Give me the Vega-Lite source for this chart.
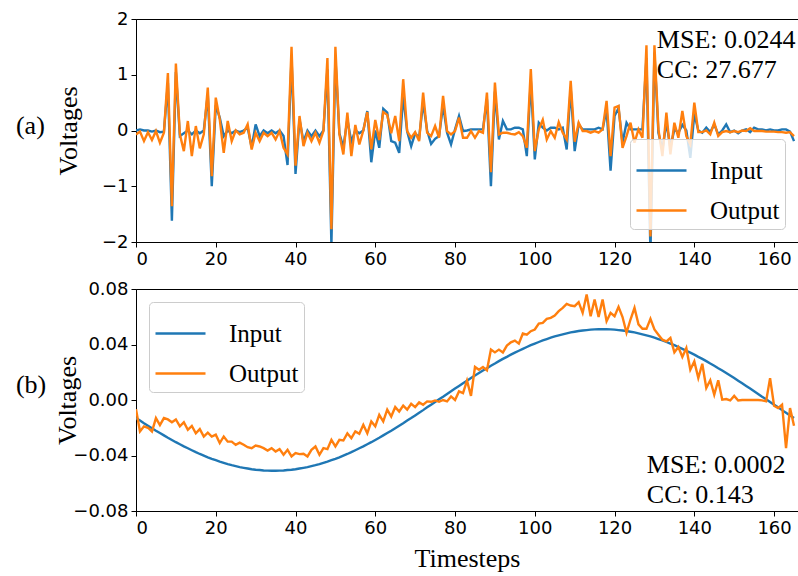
{
"$schema":"https://vega.github.io/schema/vega-lite/v6.json",
"background":"white",
"padding":{"left":15,"top":9,"right":0,"bottom":0},
"datasets":{
"a":[
{"t":0,"Input":0.0,"Output":-0.07},{"t":1,"Input":0.02,"Output":-0.02},{"t":2,"Input":0.0,"Output":-0.19},{"t":3,"Input":0.0,"Output":-0.03},{"t":4,"Input":-0.02,"Output":-0.17},{"t":5,"Input":0.0,"Output":-0.01},{"t":6,"Input":-0.03,"Output":-0.22},{"t":7,"Input":-0.02,"Output":-0.04},{"t":8,"Input":0.85,"Output":1.03},{"t":9,"Input":-1.62,"Output":-1.36},
{"t":10,"Input":1.05,"Output":1.2},{"t":11,"Input":-0.1,"Output":-0.07},{"t":12,"Input":-0.05,"Output":-0.37},{"t":13,"Input":0.0,"Output":0.17},{"t":14,"Input":-0.07,"Output":-0.46},{"t":15,"Input":0.0,"Output":0.08},{"t":16,"Input":-0.05,"Output":-0.32},{"t":17,"Input":0.0,"Output":-0.07},{"t":18,"Input":0.65,"Output":0.77},{"t":19,"Input":-1.0,"Output":-0.82},
{"t":20,"Input":0.45,"Output":0.59},{"t":21,"Input":0.23,"Output":0.2},{"t":22,"Input":-0.1,"Output":-0.4},{"t":23,"Input":0.0,"Output":0.17},{"t":24,"Input":-0.05,"Output":-0.19},{"t":25,"Input":0.0,"Output":0.0},{"t":26,"Input":-0.03,"Output":-0.07},{"t":27,"Input":0.0,"Output":-0.04},{"t":28,"Input":0.05,"Output":0.11},{"t":29,"Input":-0.3,"Output":-0.34},
{"t":30,"Input":0.11,"Output":-0.04},{"t":31,"Input":-0.1,"Output":-0.19},{"t":32,"Input":0.0,"Output":-0.04},{"t":33,"Input":-0.05,"Output":-0.1},{"t":34,"Input":0.0,"Output":-0.04},{"t":35,"Input":-0.05,"Output":-0.16},{"t":36,"Input":0.0,"Output":-0.01},{"t":37,"Input":-0.1,"Output":-0.31},{"t":38,"Input":-0.62,"Output":-0.43},{"t":39,"Input":1.3,"Output":1.5},
{"t":40,"Input":-0.78,"Output":-0.63},{"t":41,"Input":0.2,"Output":0.26},{"t":42,"Input":-0.2,"Output":-0.28},{"t":43,"Input":0.0,"Output":-0.04},{"t":44,"Input":-0.1,"Output":-0.19},{"t":45,"Input":0.0,"Output":-0.04},{"t":46,"Input":-0.1,"Output":-0.22},{"t":47,"Input":0.0,"Output":-0.01},{"t":48,"Input":1.1,"Output":1.3},{"t":49,"Input":-2.05,"Output":-1.77},
{"t":50,"Input":1.3,"Output":1.5},{"t":51,"Input":-0.05,"Output":-0.07},{"t":52,"Input":-0.3,"Output":-0.43},{"t":53,"Input":0.2,"Output":0.32},{"t":54,"Input":-0.2,"Output":-0.46},{"t":55,"Input":0.0,"Output":0.1},{"t":56,"Input":-0.05,"Output":-0.25},{"t":57,"Input":0.0,"Output":0.0},{"t":58,"Input":0.35,"Output":0.33},{"t":59,"Input":-0.57,"Output":-0.34},
{"t":60,"Input":0.0,"Output":0.19},{"t":61,"Input":-0.31,"Output":-0.17},{"t":62,"Input":0.39,"Output":0.33},{"t":63,"Input":0.32,"Output":0.28},{"t":64,"Input":-0.19,"Output":-0.05},{"t":65,"Input":-0.22,"Output":0.26},{"t":66,"Input":-0.4,"Output":-0.19},{"t":67,"Input":0.62,"Output":0.92},{"t":68,"Input":-0.02,"Output":-0.01},{"t":69,"Input":-0.28,"Output":-0.13},
{"t":70,"Input":-0.05,"Output":-0.03},{"t":71,"Input":-0.13,"Output":-0.19},{"t":72,"Input":0.5,"Output":0.68},{"t":73,"Input":0.0,"Output":-0.04},{"t":74,"Input":-0.24,"Output":-0.1},{"t":75,"Input":-0.15,"Output":0.08},{"t":76,"Input":-0.1,"Output":-0.13},{"t":77,"Input":0.45,"Output":0.62},{"t":78,"Input":-0.04,"Output":-0.01},{"t":79,"Input":-0.25,"Output":-0.07},
{"t":80,"Input":0.02,"Output":-0.01},{"t":81,"Input":0.26,"Output":0.23},{"t":82,"Input":-0.01,"Output":-0.13},{"t":83,"Input":0.0,"Output":-0.13},{"t":84,"Input":0.02,"Output":-0.01},{"t":85,"Input":0.02,"Output":-0.13},{"t":86,"Input":0.02,"Output":-0.01},{"t":87,"Input":0.02,"Output":-0.04},{"t":88,"Input":0.56,"Output":0.68},{"t":89,"Input":-1.0,"Output":-0.75},
{"t":90,"Input":0.7,"Output":0.86},{"t":91,"Input":-0.16,"Output":-0.07},{"t":92,"Input":0.17,"Output":-0.04},{"t":93,"Input":0.02,"Output":-0.04},{"t":94,"Input":0.02,"Output":-0.06},{"t":95,"Input":0.05,"Output":-0.07},{"t":96,"Input":0.05,"Output":-0.03},{"t":97,"Input":0.02,"Output":-0.1},{"t":98,"Input":-0.46,"Output":-0.31},{"t":99,"Input":0.9,"Output":1.1},
{"t":100,"Input":-0.52,"Output":-0.37},{"t":101,"Input":0.14,"Output":0.02},{"t":102,"Input":0.05,"Output":0.19},{"t":103,"Input":0.0,"Output":-0.16},{"t":104,"Input":0.05,"Output":-0.01},{"t":105,"Input":0.05,"Output":-0.13},{"t":106,"Input":0.02,"Output":0.15},{"t":107,"Input":0.05,"Output":-0.04},{"t":108,"Input":-0.34,"Output":-0.16},{"t":109,"Input":0.75,"Output":0.89},
{"t":110,"Input":-0.37,"Output":-0.2},{"t":111,"Input":0.11,"Output":0.14},{"t":112,"Input":0.02,"Output":-0.01},{"t":113,"Input":0.02,"Output":-0.01},{"t":114,"Input":0.02,"Output":-0.04},{"t":115,"Input":0.02,"Output":-0.01},{"t":116,"Input":0.05,"Output":-0.04},{"t":117,"Input":0.02,"Output":0.02},{"t":118,"Input":0.38,"Output":0.53},{"t":119,"Input":-0.72,"Output":-0.46},
{"t":120,"Input":0.26,"Output":0.41},{"t":121,"Input":0.4,"Output":0.44},{"t":122,"Input":-0.22,"Output":-0.31},{"t":123,"Input":0.14,"Output":-0.1},{"t":124,"Input":0.02,"Output":0.14},{"t":125,"Input":0.02,"Output":-0.22},{"t":126,"Input":0.02,"Output":0.02},{"t":127,"Input":0.02,"Output":-0.13},{"t":128,"Input":1.3,"Output":1.53},{"t":129,"Input":-2.2,"Output":-1.9},
{"t":130,"Input":1.4,"Output":1.53},{"t":131,"Input":-0.04,"Output":0.02},{"t":132,"Input":-0.34,"Output":-0.46},{"t":133,"Input":0.14,"Output":0.32},{"t":134,"Input":-0.3,"Output":-0.43},{"t":135,"Input":0.02,"Output":0.14},{"t":136,"Input":-0.04,"Output":-0.13},{"t":137,"Input":0.1,"Output":0.35},{"t":138,"Input":0.0,"Output":-0.1},{"t":139,"Input":-0.49,"Output":-0.25},
{"t":140,"Input":0.3,"Output":0.5},{"t":141,"Input":0.0,"Output":-0.03},{"t":142,"Input":-0.04,"Output":-0.03},{"t":143,"Input":0.05,"Output":0.0},{"t":144,"Input":-0.03,"Output":-0.07},{"t":145,"Input":0.11,"Output":0.14},{"t":146,"Input":-0.07,"Output":-0.1},{"t":147,"Input":0.0,"Output":-0.03},{"t":148,"Input":0.11,"Output":-0.01},{"t":149,"Input":-0.03,"Output":-0.03},
{"t":150,"Input":0.0,"Output":-0.01},{"t":151,"Input":-0.05,"Output":-0.03},{"t":152,"Input":0.0,"Output":0.0},{"t":153,"Input":0.02,"Output":-0.01},{"t":154,"Input":-0.03,"Output":0.04},{"t":155,"Input":0.05,"Output":-0.01},{"t":156,"Input":0.02,"Output":-0.01},{"t":157,"Input":0.02,"Output":-0.01},{"t":158,"Input":0.0,"Output":-0.02},{"t":159,"Input":0.02,"Output":-0.02},
{"t":160,"Input":0.0,"Output":-0.02},{"t":161,"Input":0.0,"Output":-0.03},{"t":162,"Input":0.02,"Output":-0.03},{"t":163,"Input":0.02,"Output":-0.04},{"t":164,"Input":-0.02,"Output":-0.03},{"t":165,"Input":-0.19,"Output":-0.1}
],
"b":[
{"t":0,"Input":-0.0130,"Output":-0.0066},{"t":1,"Input":-0.0148,"Output":-0.0227},{"t":2,"Input":-0.0167,"Output":-0.019},{"t":3,"Input":-0.0185,"Output":-0.020},{"t":4,"Input":-0.0203,"Output":-0.0227},{"t":5,"Input":-0.0221,"Output":-0.013},{"t":6,"Input":-0.0238,"Output":-0.018},{"t":7,"Input":-0.0255,"Output":-0.013},{"t":8,"Input":-0.0272,"Output":-0.014},{"t":9,"Input":-0.0288,"Output":-0.016},
{"t":10,"Input":-0.0304,"Output":-0.014},{"t":11,"Input":-0.0319,"Output":-0.019},{"t":12,"Input":-0.0334,"Output":-0.016},{"t":13,"Input":-0.0348,"Output":-0.0215},{"t":14,"Input":-0.0362,"Output":-0.0187},{"t":15,"Input":-0.0376,"Output":-0.024},{"t":16,"Input":-0.0389,"Output":-0.021},{"t":17,"Input":-0.0401,"Output":-0.0263},{"t":18,"Input":-0.0413,"Output":-0.0235},{"t":19,"Input":-0.0424,"Output":-0.0263},
{"t":20,"Input":-0.0434,"Output":-0.025},{"t":21,"Input":-0.0444,"Output":-0.031},{"t":22,"Input":-0.0453,"Output":-0.0263},{"t":23,"Input":-0.0462,"Output":-0.03},{"t":24,"Input":-0.0470,"Output":-0.03},{"t":25,"Input":-0.0477,"Output":-0.0323},{"t":26,"Input":-0.0484,"Output":-0.0307},{"t":27,"Input":-0.0489,"Output":-0.0323},{"t":28,"Input":-0.0494,"Output":-0.034},{"t":29,"Input":-0.0499,"Output":-0.0347},
{"t":30,"Input":-0.0503,"Output":-0.0328},{"t":31,"Input":-0.0505,"Output":-0.0335},{"t":32,"Input":-0.0508,"Output":-0.0347},{"t":33,"Input":-0.0509,"Output":-0.0364},{"t":34,"Input":-0.0510,"Output":-0.0347},{"t":35,"Input":-0.0510,"Output":-0.0371},{"t":36,"Input":-0.0509,"Output":-0.0354},{"t":37,"Input":-0.0508,"Output":-0.0395},{"t":38,"Input":-0.0505,"Output":-0.0359},{"t":39,"Input":-0.0503,"Output":-0.0407},
{"t":40,"Input":-0.0499,"Output":-0.0383},{"t":41,"Input":-0.0494,"Output":-0.039},{"t":42,"Input":-0.0489,"Output":-0.0388},{"t":43,"Input":-0.0484,"Output":-0.0407},{"t":44,"Input":-0.0477,"Output":-0.0359},{"t":45,"Input":-0.0470,"Output":-0.0335},{"t":46,"Input":-0.0462,"Output":-0.0395},{"t":47,"Input":-0.0453,"Output":-0.0347},{"t":48,"Input":-0.0444,"Output":-0.0354},{"t":49,"Input":-0.0434,"Output":-0.0287},
{"t":50,"Input":-0.0424,"Output":-0.0335},{"t":51,"Input":-0.0413,"Output":-0.0287},{"t":52,"Input":-0.0401,"Output":-0.0292},{"t":53,"Input":-0.0389,"Output":-0.024},{"t":54,"Input":-0.0376,"Output":-0.0275},{"t":55,"Input":-0.0362,"Output":-0.0227},{"t":56,"Input":-0.0348,"Output":-0.0244},{"t":57,"Input":-0.0334,"Output":-0.0179},{"t":58,"Input":-0.0319,"Output":-0.024},{"t":59,"Input":-0.0304,"Output":-0.0155},
{"t":60,"Input":-0.0288,"Output":-0.019},{"t":61,"Input":-0.0272,"Output":-0.0107},{"t":62,"Input":-0.0255,"Output":-0.0155},{"t":63,"Input":-0.0238,"Output":-0.007},{"t":64,"Input":-0.0221,"Output":-0.0119},{"t":65,"Input":-0.0203,"Output":-0.0051},{"t":66,"Input":-0.0185,"Output":-0.0083},{"t":67,"Input":-0.0167,"Output":-0.0041},{"t":68,"Input":-0.0148,"Output":-0.007},{"t":69,"Input":-0.0130,"Output":-0.0027},
{"t":70,"Input":-0.0111,"Output":-0.0051},{"t":71,"Input":-0.0092,"Output":-0.0017},{"t":72,"Input":-0.0073,"Output":-0.0034},{"t":73,"Input":-0.0053,"Output":-0.001},{"t":74,"Input":-0.0034,"Output":-0.0013},{"t":75,"Input":-0.0015,"Output":-0.0003},{"t":76,"Input":0.0005,"Output":-0.0013},{"t":77,"Input":0.0024,"Output":0.0},{"t":78,"Input":0.0044,"Output":-0.001},{"t":79,"Input":0.0063,"Output":0.0026},
{"t":80,"Input":0.0082,"Output":0.0},{"t":81,"Input":0.0101,"Output":0.0062},{"t":82,"Input":0.0120,"Output":0.005},{"t":83,"Input":0.0139,"Output":0.014},{"t":84,"Input":0.0158,"Output":0.003},{"t":85,"Input":0.0176,"Output":0.0238},{"t":86,"Input":0.0194,"Output":0.0218},{"t":87,"Input":0.0212,"Output":0.0238},{"t":88,"Input":0.0229,"Output":0.0214},{"t":89,"Input":0.0247,"Output":0.0363},
{"t":90,"Input":0.0263,"Output":0.0343},{"t":91,"Input":0.0280,"Output":0.0363},{"t":92,"Input":0.0296,"Output":0.0343},{"t":93,"Input":0.0311,"Output":0.0392},{"t":94,"Input":0.0327,"Output":0.0416},{"t":95,"Input":0.0341,"Output":0.0428},{"t":96,"Input":0.0355,"Output":0.0406},{"t":97,"Input":0.0369,"Output":0.0479},{"t":98,"Input":0.0382,"Output":0.0471},{"t":99,"Input":0.0395,"Output":0.0496},
{"t":100,"Input":0.0407,"Output":0.0508},{"t":101,"Input":0.0418,"Output":0.0551},{"t":102,"Input":0.0429,"Output":0.0556},{"t":103,"Input":0.0439,"Output":0.0585},{"t":104,"Input":0.0449,"Output":0.0592},{"t":105,"Input":0.0458,"Output":0.0609},{"t":106,"Input":0.0466,"Output":0.064},{"t":107,"Input":0.0473,"Output":0.0664},{"t":108,"Input":0.0480,"Output":0.0693},{"t":109,"Input":0.0487,"Output":0.0681},
{"t":110,"Input":0.0492,"Output":0.0676},{"t":111,"Input":0.0497,"Output":0.0705},{"t":112,"Input":0.0501,"Output":0.0628},{"t":113,"Input":0.0504,"Output":0.076},{"t":114,"Input":0.0507,"Output":0.0604},{"t":115,"Input":0.0509,"Output":0.0724},{"t":116,"Input":0.0510,"Output":0.0599},{"t":117,"Input":0.0510,"Output":0.0724},{"t":118,"Input":0.0510,"Output":0.0568},{"t":119,"Input":0.0509,"Output":0.0628},
{"t":120,"Input":0.0507,"Output":0.0604},{"t":121,"Input":0.0504,"Output":0.0671},{"t":122,"Input":0.0501,"Output":0.0598},{"t":123,"Input":0.0497,"Output":0.0484},{"t":124,"Input":0.0492,"Output":0.058},{"t":125,"Input":0.0487,"Output":0.0664},{"t":126,"Input":0.0480,"Output":0.0545},{"t":127,"Input":0.0473,"Output":0.0513},{"t":128,"Input":0.0466,"Output":0.0513},{"t":129,"Input":0.0458,"Output":0.0585},
{"t":130,"Input":0.0449,"Output":0.0508},{"t":131,"Input":0.0439,"Output":0.0471},{"t":132,"Input":0.0429,"Output":0.0435},{"t":133,"Input":0.0418,"Output":0.0423},{"t":134,"Input":0.0407,"Output":0.0447},{"t":135,"Input":0.0395,"Output":0.0343},{"t":136,"Input":0.0382,"Output":0.0382},{"t":137,"Input":0.0369,"Output":0.031},{"t":138,"Input":0.0355,"Output":0.0375},{"t":139,"Input":0.0341,"Output":0.0218},
{"t":140,"Input":0.0327,"Output":0.0278},{"t":141,"Input":0.0311,"Output":0.0158},{"t":142,"Input":0.0296,"Output":0.0261},{"t":143,"Input":0.0280,"Output":0.0086},{"t":144,"Input":0.0263,"Output":0.0142},{"t":145,"Input":0.0247,"Output":0.0038},{"t":146,"Input":0.0229,"Output":0.0142},{"t":147,"Input":0.0212,"Output":0.0002},{"t":148,"Input":0.0194,"Output":0.0007},{"t":149,"Input":0.0176,"Output":-0.0003},
{"t":150,"Input":0.0158,"Output":0.003},{"t":151,"Input":0.0139,"Output":-0.0003},{"t":152,"Input":0.0120,"Output":0.0},{"t":153,"Input":0.0101,"Output":0.0},{"t":154,"Input":0.0082,"Output":0.0},{"t":155,"Input":0.0063,"Output":0.0},{"t":156,"Input":0.0044,"Output":0.0},{"t":157,"Input":0.0024,"Output":-0.0003},{"t":158,"Input":0.0005,"Output":-0.001},{"t":159,"Input":-0.0015,"Output":0.0158},
{"t":160,"Input":-0.0034,"Output":-0.0041},{"t":161,"Input":-0.0053,"Output":-0.0058},{"t":162,"Input":-0.0073,"Output":-0.0034},{"t":163,"Input":-0.0092,"Output":-0.0347},{"t":164,"Input":-0.0111,"Output":-0.0058},{"t":165,"Input":-0.0130,"Output":-0.0186}
]
},
"config":{
"view":{"stroke":"black","strokeWidth":1},
"axis":{"grid":false,"domain":true,"domainColor":"black","domainWidth":1,"tickColor":"black","tickSize":5,"tickWidth":1,"labelFont":"DejaVu Sans","labelFontSize":18,"labelColor":"black","labelPadding":3,"titleFont":"Liberation Serif","titleFontSize":26,"titleFontWeight":"normal","titleColor":"black"},
"legend":{"title":null,"symbolType":"stroke","symbolSize":2500,"symbolStrokeWidth":2.4,"labelFont":"Liberation Serif","labelFontSize":25,"labelColor":"black","labelOffset":22,"rowPadding":-8,"padding":5,"fillColor":"rgba(255,255,255,0.8)","strokeColor":"#cccccc","cornerRadius":4,"labelLimit":300},
"concat":{"spacing":10}
},
"resolve":{"scale":{"color":"independent"},"legend":{"color":"independent"}},
"vconcat":[
{
"width":662,"height":223,
"encoding":{
"x":{"type":"quantitative","scale":{"domain":[0,166],"nice":false,"zero":false},"axis":{"values":[0,20,40,60,80,100,120,140,160],"format":"d","title":null}},
"y":{"type":"quantitative","scale":{"domain":[-2,2],"nice":false},"axis":{"values":[-2,-1,0,1,2],"format":"d","title":"Voltages","titlePadding":20}}
},
"layer":[
{"data":{"name":"a"},"transform":[{"fold":["Input","Output"],"as":["series","v"]}],
"mark":{"type":"line","strokeWidth":2.4,"clip":true},
"encoding":{
"x":{"field":"t"},
"y":{"field":"v"},
"color":{"field":"series","type":"nominal","scale":{"domain":["Input","Output"],"range":["#1f77b4","#ff7f0e"]},"legend":{"orient":"bottom-right","offset":13}}
}},
{"data":{"values":[{}]},"mark":{"type":"text","font":"Liberation Serif","fontSize":26,"align":"left","baseline":"alphabetic","color":"black"},
"encoding":{"x":{"datum":130.6},"y":{"datum":1.48},"text":{"value":"MSE: 0.0244"}}},
{"data":{"values":[{}]},"mark":{"type":"text","font":"Liberation Serif","fontSize":26,"align":"left","baseline":"alphabetic","color":"black"},
"encoding":{"x":{"datum":130.6},"y":{"datum":0.94},"text":{"value":"CC: 27.677"}}},
{"data":{"values":[{}]},"mark":{"type":"text","font":"Liberation Serif","fontSize":26,"align":"left","baseline":"middle","color":"black"},
"encoding":{"x":{"datum":-30.1},"y":{"datum":0.08},"text":{"value":"(a)"}}}
]
},
{
"width":662,"height":222,
"encoding":{
"x":{"type":"quantitative","scale":{"domain":[0,166],"nice":false,"zero":false},"axis":{"values":[0,20,40,60,80,100,120,140,160],"format":"d","title":"Timesteps","titlePadding":8}},
"y":{"type":"quantitative","scale":{"domain":[-0.08,0.08],"nice":false},"axis":{"values":[-0.08,-0.04,0,0.04,0.08],"format":".2f","title":"Voltages","titlePadding":-8}}
},
"layer":[
{"data":{"name":"b"},"transform":[{"fold":["Input","Output"],"as":["series","v"]}],
"mark":{"type":"line","strokeWidth":2.4,"clip":true},
"encoding":{
"x":{"field":"t"},
"y":{"field":"v"},
"color":{"field":"series","type":"nominal","scale":{"domain":["Input","Output"],"range":["#1f77b4","#ff7f0e"]},"legend":{"orient":"top-left","offset":13}}
}},
{"data":{"values":[{}]},"mark":{"type":"text","font":"Liberation Serif","fontSize":26,"align":"left","baseline":"alphabetic","color":"black"},
"encoding":{"x":{"datum":128.1},"y":{"datum":-0.0523},"text":{"value":"MSE: 0.0002"}}},
{"data":{"values":[{}]},"mark":{"type":"text","font":"Liberation Serif","fontSize":26,"align":"left","baseline":"alphabetic","color":"black"},
"encoding":{"x":{"datum":128.1},"y":{"datum":-0.074},"text":{"value":"CC: 0.143"}}},
{"data":{"values":[{}]},"mark":{"type":"text","font":"Liberation Serif","fontSize":26,"align":"left","baseline":"middle","color":"black"},
"encoding":{"x":{"datum":-30.1},"y":{"datum":0.011},"text":{"value":"(b)"}}}
]
}
]
}
